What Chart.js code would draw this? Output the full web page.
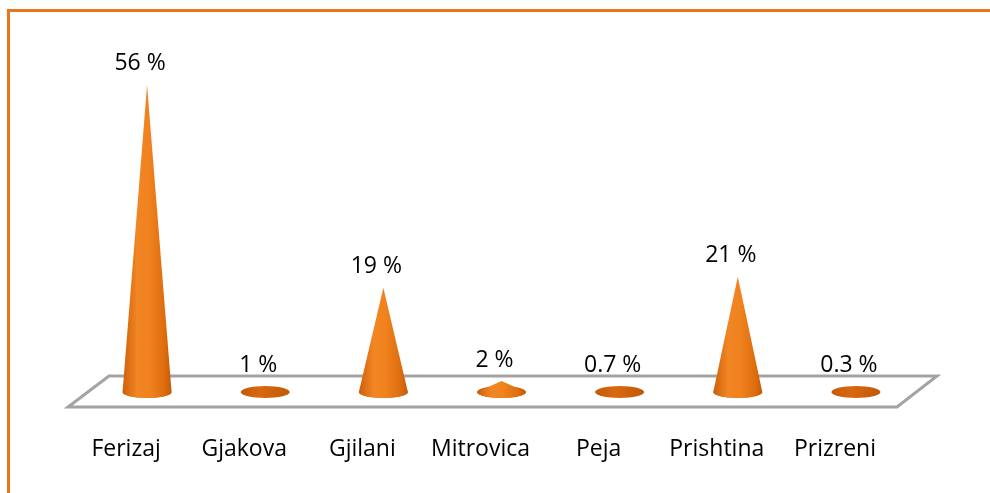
<!DOCTYPE html>
<html>
<head>
<meta charset="utf-8">
<script src="https://cdn.jsdelivr.net/npm/chart.js@4.4.1/dist/chart.umd.min.js"></script>
<style>
    html, body { margin: 0; padding: 0; background: #ffffff; }
    #wrap { position: relative; width: 990px; height: 493px; }
    #frame {
        position: absolute; left: 7px; top: 9px; right: 0; bottom: 0;
        border-top: 3px solid #ea761c; border-left: 3px solid #ea761c;
        pointer-events: none;
    }
    canvas { position: absolute; left: 0; top: 0; }
</style>
</head>
<body>
<div id="wrap">
    <canvas id="coneChart" width="990" height="493"></canvas>
    <div id="frame"></div>
</div>
<script>
// Chart data
const categories = ['Ferizaj', 'Gjakova', 'Gjilani', 'Mitrovica', 'Peja', 'Prishtina', 'Prizreni'];
const shares = [56, 1, 19, 2, 0.7, 21, 0.3];
const yTicks = [0, 60];

const FONT = '"Open Sans", "Liberation Sans", sans-serif';

// Grey floor under the cones
const floorPlugin = {
    id: 'floor',
    beforeDatasetsDraw(chart) {
        const ctx = chart.ctx;
        const x = chart.scales.x;
        const base = chart.scales.y.getPixelForValue(0);
        ctx.save();
        ctx.beginPath();
        ctx.moveTo(x.left + 21, base - 16);
        ctx.lineTo(x.right + 22, base - 16);
        ctx.lineTo(x.right - 18, base + 15);
        ctx.lineTo(x.left - 20, base + 15);
        ctx.closePath();
        ctx.fillStyle = '#ffffff';
        ctx.fill();
        ctx.lineWidth = 3;
        ctx.strokeStyle = '#a3a3a3';
        ctx.stroke();
        ctx.restore();
    }
};

// Draw each bar element as a cone, plus its value label
const conePlugin = {
    id: 'cones',
    afterDatasetsDraw(chart) {
        const ctx = chart.ctx;
        const meta = chart.getDatasetMeta(0);
        meta.data.forEach((bar, i) => {
            const rx = bar.width / 2;
            const ry = 6;
            const cx = bar.x;
            const base = bar.base;
            const apex = bar.y;

            ctx.save();
            // base ellipse
            const baseGrad = ctx.createLinearGradient(cx - rx, 0, cx + rx, 0);
            baseGrad.addColorStop(0, '#c45a08');
            baseGrad.addColorStop(0.4, '#d8690f');
            baseGrad.addColorStop(1, '#c25806');
            ctx.beginPath();
            ctx.ellipse(cx, base, rx, ry, 0, 0, Math.PI * 2);
            ctx.fillStyle = baseGrad;
            ctx.fill();

            // cone body
            if (base - apex > ry) {
                const grad = ctx.createLinearGradient(cx - rx, 0, cx + rx, 0);
                grad.addColorStop(0, '#cc600a');
                grad.addColorStop(0.3, '#f28624');
                grad.addColorStop(0.55, '#f0821f');
                grad.addColorStop(0.85, '#de6d0e');
                grad.addColorStop(1, '#c45a08');
                ctx.beginPath();
                ctx.moveTo(cx, apex);
                ctx.lineTo(cx - rx, base);
                ctx.ellipse(cx, base, rx, ry, 0, Math.PI, 0, true);
                ctx.closePath();
                ctx.fillStyle = grad;
                ctx.fill();
            }

            // value label
            const top = Math.min(apex, base - ry);
            ctx.fillStyle = '#000000';
            ctx.font = '23px ' + FONT;
            ctx.textAlign = 'center';
            ctx.textBaseline = 'middle';
            ctx.fillText(shares[i] + ' %', cx - 7, top - 21);
            ctx.restore();
        });
    }
};

new Chart(document.getElementById('coneChart'), {
    type: 'bar',
    data: {
        labels: categories,
        datasets: [{
            data: shares,
            backgroundColor: 'rgba(0,0,0,0)',
            borderWidth: 0,
            categoryPercentage: 1,
            barPercentage: 0.415
        }]
    },
    options: {
        responsive: false,
        animation: false,
        events: [],
        layout: {
            padding: { left: 88, right: 75, top: 63, bottom: 0 }
        },
        plugins: {
            legend: { display: false },
            tooltip: { enabled: false }
        },
        scales: {
            x: {
                grid: { display: false, drawTicks: false },
                border: { display: false },
                ticks: {
                    color: '#000000',
                    font: { family: FONT, size: 23 },
                    padding: 44,
                    labelOffset: -21,
                    maxRotation: 0
                },
                afterFit(scale) {
                    scale.height = 101;
                }
            },
            y: {
                display: false,
                min: yTicks[0],
                max: yTicks[1]
            }
        }
    },
    plugins: [floorPlugin, conePlugin]
});
</script>
</body>
</html>
